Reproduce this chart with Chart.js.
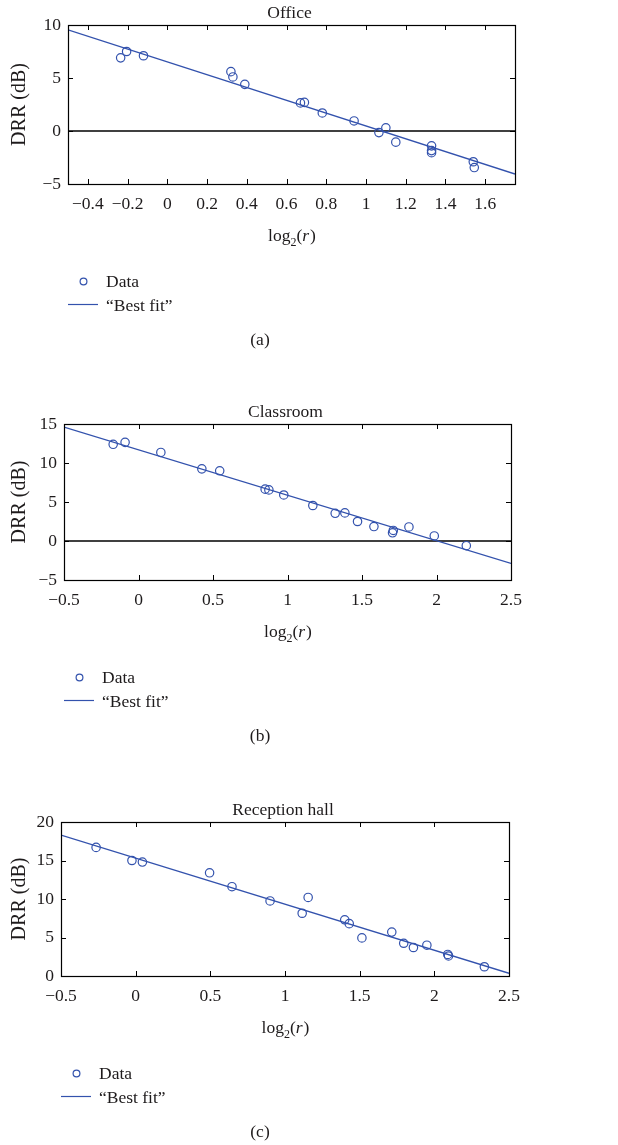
<!DOCTYPE html>
<html>
<head>
  <title>DRR versus log2(r)</title>
  <script src="https://cdn.jsdelivr.net/npm/chart.js"></script>
  <style>
    body {
      margin: 0;
      background: #fff;
    }
    canvas {
      position: absolute;
      left: 0;
    }
  </style>
</head>
<body>
  <canvas id="office" width="618" height="380" style="top:0"></canvas>
  <canvas id="classroom" width="618" height="380" style="top:380px"></canvas>
  <canvas id="reception" width="618" height="385" style="top:760px"></canvas>

  <script>
    // Measured DRR (dB) against log2 of source distance, one set per room
    const officeX = [-0.235, -0.205, -0.12, 0.32, 0.33, 0.39, 0.67, 0.69, 0.78, 0.94,
                     1.065, 1.10, 1.15, 1.33, 1.33, 1.33, 1.54, 1.545];
    const officeY = [6.9, 7.5, 7.1, 5.6, 5.1, 4.4, 2.65, 2.7, 1.7, 0.95,
                     -0.15, 0.3, -1.05, -1.4, -1.85, -2.05, -2.9, -3.45];
    const officeFitX = [-0.5, 1.75];
    const officeFitY = [9.55, -4.06];
    const officeXTicks = [-0.4, -0.2, 0, 0.2, 0.4, 0.6, 0.8, 1, 1.2, 1.4, 1.6];
    const officeYTicks = [-5, 0, 5, 10];

    const classroomX = [-0.17, -0.09, 0.15, 0.425, 0.545, 0.85, 0.875, 0.975, 1.17,
                        1.32, 1.385, 1.47, 1.58, 1.71, 1.705, 1.815, 1.985, 2.2];
    const classroomY = [12.4, 12.65, 11.35, 9.25, 9.0, 6.65, 6.55, 5.9, 4.55,
                        3.55, 3.6, 2.5, 1.85, 1.35, 1.05, 1.8, 0.65, -0.6];
    const classroomFitX = [-0.5, 2.5];
    const classroomFitY = [14.6, -2.87];
    const classroomXTicks = [-0.5, 0, 0.5, 1, 1.5, 2, 2.5];
    const classroomYTicks = [-5, 0, 5, 10, 15];

    const receptionX = [-0.265, -0.025, 0.045, 0.495, 0.645, 0.9, 1.115, 1.155, 1.4,
                        1.43, 1.515, 1.715, 1.795, 1.86, 1.95, 2.09, 2.095, 2.335];
    const receptionY = [16.7, 15.0, 14.8, 13.4, 11.6, 9.75, 8.15, 10.2, 7.3,
                        6.8, 4.95, 5.7, 4.25, 3.7, 4.0, 2.8, 2.6, 1.2];
    const receptionFitX = [-0.5, 2.5];
    const receptionFitY = [18.3, 0.35];
    const receptionXTicks = [-0.5, 0, 0.5, 1, 1.5, 2, 2.5];
    const receptionYTicks = [0, 5, 10, 15, 20];

    const BLUE = '#3352ad';
    const INK = '#1e1b1c';
    const SERIF = '"Liberation Serif", "DejaVu Serif", serif';

    const fmt = v => (Math.round(v * 100) / 100).toString().replace('-', '\u2212');
    const pairs = (xs, ys) => xs.map((x, i) => ({ x: x, y: ys[i] }));

    // box around the plot with inward ticks on all four sides
    const framePlugin = {
      id: 'frame',
      afterDatasetsDraw(chart) {
        const { ctx, chartArea: a, scales } = chart;
        const len = 5;
        ctx.save();
        ctx.strokeStyle = '#000';
        ctx.lineWidth = 1.2;
        ctx.strokeRect(Math.round(a.left) + 0.5, Math.round(a.top) + 0.5,
                       Math.round(a.right - a.left), Math.round(a.bottom - a.top));
        ctx.lineWidth = 1;
        ctx.beginPath();
        scales.x.ticks.forEach(t => {
          const px = Math.round(scales.x.getPixelForValue(t.value)) + 0.5;
          ctx.moveTo(px, a.bottom); ctx.lineTo(px, a.bottom - len);
          ctx.moveTo(px, a.top); ctx.lineTo(px, a.top + len);
        });
        scales.y.ticks.forEach(t => {
          const py = Math.round(scales.y.getPixelForValue(t.value)) + 0.5;
          ctx.moveTo(a.left, py); ctx.lineTo(a.left + len, py);
          ctx.moveTo(a.right, py); ctx.lineTo(a.right - len, py);
        });
        ctx.stroke();
        ctx.restore();
      }
    };

    // title, x label with subscript, legend and caption
    const panelText = {
      id: 'panelText',
      afterDraw(chart, args, opts) {
        const { ctx, chartArea: a } = chart;
        const cx = (a.left + a.right) / 2;
        ctx.save();
        ctx.fillStyle = INK;
        ctx.textBaseline = 'alphabetic';

        ctx.font = '17.5px ' + SERIF;
        ctx.textAlign = 'center';
        ctx.fillText(opts.title, cx - 2, a.top - 7);

        // log2(r)
        const big = '17.5px ' + SERIF, small = '12px ' + SERIF, ital = 'italic 17.5px ' + SERIF;
        const parts = [['log', big, 0], ['2', small, 4.5], ['(', big, 0], ['r', ital, 0], [')', big, 0]];
        let total = 0;
        parts.forEach(p => { ctx.font = p[1]; p.push(ctx.measureText(p[0]).width); total += p[3]; });
        let x = cx - total / 2;
        ctx.textAlign = 'left';
        parts.forEach(p => {
          ctx.font = p[1];
          ctx.fillText(p[0], x, a.bottom + 57 + p[2]);
          x += p[3] + (p[0] === 'r' ? 1 : 0);
        });

        // legend
        const lx = a.left;
        ctx.strokeStyle = BLUE;
        ctx.lineWidth = 1.2;
        ctx.beginPath();
        ctx.arc(lx + 15.5, a.bottom + 97.5, 3.4, 0, Math.PI * 2);
        ctx.stroke();
        ctx.beginPath();
        ctx.moveTo(lx, a.bottom + 120.5);
        ctx.lineTo(lx + 30, a.bottom + 120.5);
        ctx.stroke();
        ctx.font = '17.5px ' + SERIF;
        ctx.fillText('Data', lx + 38, a.bottom + 103);
        ctx.fillText('\u201CBest fit\u201D', lx + 38, a.bottom + 126.5);

        ctx.textAlign = 'center';
        ctx.fillText(opts.caption, 260, a.bottom + 161);
        ctx.restore();
      }
    };

    function makePanel(id, p) {
      const canvas = document.getElementById(id);
      const W = canvas.width, H = canvas.height;
      const tickFont = { family: SERIF, size: 17.5 };
      const datasets = [
        {
          label: 'Data',
          data: pairs(p.x, p.y),
          showLine: false,
          pointStyle: 'circle',
          pointRadius: 4.2,
          pointBorderWidth: 1.2,
          borderColor: BLUE,
          backgroundColor: 'rgba(0,0,0,0)',
          order: 1
        },
        {
          label: 'Best fit',
          data: pairs(p.fitX, p.fitY),
          showLine: true,
          pointRadius: 0,
          borderColor: BLUE,
          borderWidth: 1.3,
          order: 2
        }
      ];
      if (p.zeroLine) {
        datasets.push({
          label: 'zero',
          data: pairs([p.xMin, p.xMax], [0, 0]),
          showLine: true,
          pointRadius: 0,
          borderColor: '#000',
          borderWidth: 1.4,
          order: 3
        });
      }
      return new Chart(canvas, {
        type: 'scatter',
        data: { datasets: datasets },
        options: {
          responsive: false,
          animation: false,
          events: [],
          layout: { padding: { left: 0, right: W - p.area.right, top: p.area.top, bottom: 0 } },
          plugins: {
            legend: { display: false },
            tooltip: { enabled: false },
            panelText: { title: p.title, caption: p.caption }
          },
          scales: {
            x: {
              type: 'linear',
              min: p.xMin,
              max: p.xMax,
              afterBuildTicks: s => { s.ticks = p.xTicks.map(v => ({ value: v })); },
              afterFit: s => { s.height = H - p.area.bottom; },
              grid: { display: false, drawTicks: false },
              border: { display: false },
              ticks: { font: tickFont, color: INK, padding: 10, maxRotation: 0, autoSkip: false, callback: fmt }
            },
            y: {
              type: 'linear',
              min: p.yMin,
              max: p.yMax,
              afterBuildTicks: s => { s.ticks = p.yTicks.map(v => ({ value: v })); },
              afterFit: s => { s.width = p.area.left; },
              grid: { display: false, drawTicks: false },
              border: { display: false },
              ticks: { font: tickFont, color: INK, padding: 7, autoSkip: false, callback: fmt },
              title: {
                display: true,
                text: 'DRR (dB)',
                color: INK,
                font: { family: SERIF, size: 20 },
                padding: { top: 8, bottom: 0 }
              }
            }
          }
        },
        plugins: [framePlugin, panelText]
      });
    }

    makePanel('office', {
      title: 'Office', caption: '(a)',
      x: officeX, y: officeY, fitX: officeFitX, fitY: officeFitY,
      xTicks: officeXTicks, yTicks: officeYTicks,
      xMin: -0.5, xMax: 1.75, yMin: -5, yMax: 10, zeroLine: true,
      area: { left: 68, right: 515, top: 25, bottom: 184 }
    });

    makePanel('classroom', {
      title: 'Classroom', caption: '(b)',
      x: classroomX, y: classroomY, fitX: classroomFitX, fitY: classroomFitY,
      xTicks: classroomXTicks, yTicks: classroomYTicks,
      xMin: -0.5, xMax: 2.5, yMin: -5, yMax: 15, zeroLine: true,
      area: { left: 64, right: 511, top: 44, bottom: 200 }
    });

    makePanel('reception', {
      title: 'Reception hall', caption: '(c)',
      x: receptionX, y: receptionY, fitX: receptionFitX, fitY: receptionFitY,
      xTicks: receptionXTicks, yTicks: receptionYTicks,
      xMin: -0.5, xMax: 2.5, yMin: 0, yMax: 20, zeroLine: false,
      area: { left: 61, right: 509, top: 62, bottom: 216 }
    });
  </script>
</body>
</html>
